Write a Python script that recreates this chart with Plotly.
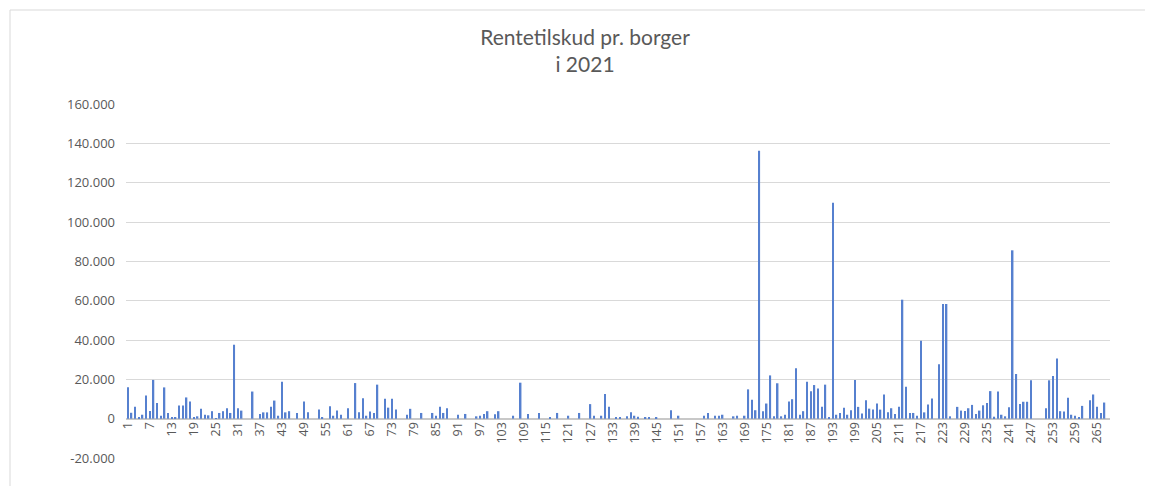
import plotly.graph_objects as go

# Category numbers (borgere 1..267)
categories = list(range(1, 268))

# Rentetilskud pr. borger (kr.)
values = [
    16000, 3000, 6000, 800, 2000, 11800, 3900, 19700, 8000, 1500,      # 1-10
    15900, 2900, 800, 800, 6700, 6700, 10800, 8700, 800, 1200,         # 11-20
    5000, 2000, 1700, 3800, 300, 2900, 3800, 5300, 2900, 37600,        # 21-30
    5300, 4100, 0, 0, 13800, 0, 2400, 3200, 3200, 6000,                # 31-40
    9200, 1500, 18800, 3200, 3800, 0, 2900, 0, 8700, 3200,             # 41-50
    0, 0, 4600, 800, 0, 6300, 1500, 4100, 2000, 0,                     # 51-60
    5300, 0, 18100, 3200, 10400, 1500, 3600, 2900, 17300, 0,           # 61-70
    10100, 5600, 10100, 4600, 0, 0, 2000, 5000, 0, 0,                  # 71-80
    2900, 0, 0, 2900, 1500, 6000, 2900, 5300, 0, 0,                    # 81-90
    2000, 0, 2400, 0, 0, 1200, 1500, 2400, 3800, 0,                    # 91-100
    2200, 3800, 0, 0, 0, 1500, 0, 18300, 0, 2400,                      # 101-110
    0, 0, 2900, 0, 0, 800, 0, 2900, 0, 0,                              # 111-120
    1500, 0, 0, 2900, 0, 0, 7400, 1500, 0, 1500,                       # 121-130
    12500, 6000, 0, 800, 500, 0, 1200, 3200, 1500, 1000,               # 131-140
    0, 500, 500, 0, 500, 0, 0, 0, 4300, 0,                             # 141-150
    1500, 0, 0, 0, 0, 0, 0, 1500, 2900, 0,                             # 151-160
    1500, 1500, 2000, 0, 0, 1200, 1500, 0, 1500, 14900,                # 161-170
    9600, 4300, 136200, 3800, 7700, 22000, 1200, 18000, 1200, 2000,    # 171-180
    8700, 9900, 25600, 2000, 3800, 18800, 14000, 17100, 15400, 6000,   # 181-190
    17300, 800, 109800, 2000, 2900, 5500, 2000, 4300, 19700, 6000,     # 191-200
    2600, 9400, 5100, 4600, 7700, 4600, 12300, 3200, 5300, 2400,       # 201-210
    6000, 60500, 16200, 2900, 2900, 1500, 39600, 3200, 7200, 10300,    # 211-220
    0, 27700, 58300, 58300, 1200, 0, 6000, 4100, 3900, 5300,           # 221-230
    7000, 2400, 4100, 6800, 8000, 14000, 1000, 13850, 2000, 1200,      # 231-240
    5800, 85600, 22700, 7400, 8600, 8600, 19500, 0, 0, 0,              # 241-250
    5300, 19500, 21700, 30600, 3800, 3600, 10600, 2000, 1500, 800,     # 251-260
    6500, 0, 9400, 12300, 6000, 2900, 8200,                            # 261-267
]

x_tick_values = list(range(1, 268, 6))
x_tick_labels = [str(v) for v in x_tick_values]

y_tick_values = [-20000, 0, 20000, 40000, 60000, 80000, 100000, 120000, 140000, 160000]
y_tick_labels = ["-20.000", "0", "20.000", "40.000", "60.000", "80.000",
                 "100.000", "120.000", "140.000", "160.000"]

title_lines = ["Rentetilskud pr. borger", "i 2021"]

GRAY_TEXT = "#595959"
GRID = "#d9d9d9"
BAR = "#5680cf"
TITLE_FONT = "Lato, 'Open Sans', sans-serif"
AXIS_FONT = "'Open Sans', Lato, sans-serif"

# The page body has an 8px margin, so the figure is 16px smaller than the window.
W, H = 1137, 478
ML, MR, MT, MB = 118, 35, 96, 28
PW = W - ML - MR
PH = H - MT - MB

fig = go.Figure()
fig.add_trace(go.Bar(
    x=categories,
    y=values,
    marker=dict(color=BAR, line=dict(width=0)),
    width=0.4,
    showlegend=False,
))

ymin, ymax = -20000, 160000

fig.update_layout(
    width=W,
    height=H,
    paper_bgcolor="white",
    plot_bgcolor="white",
    margin=dict(l=ML, r=MR, t=MT, b=MB, autoexpand=False),
    font=dict(family=AXIS_FONT, color=GRAY_TEXT),
    title=dict(
        text="<br>".join(title_lines),
        x=577 / W,
        xref="container",
        xanchor="center",
        y=1 - 37 / H,
        yref="container",
        yanchor="top",
        font=dict(size=21, color=GRAY_TEXT, family=TITLE_FONT),
    ),
    xaxis=dict(
        range=[0.5, 268.5],
        tickmode="array",
        tickvals=x_tick_values,
        ticktext=x_tick_labels,
        tickangle=-90,
        tickfont=dict(size=12.5, color=GRAY_TEXT, family=AXIS_FONT),
        showgrid=False,
        zeroline=False,
        showline=False,
        ticks="",
        anchor="free",
        position=(0 - ymin) / (ymax - ymin),
    ),
    yaxis=dict(
        range=[ymin, ymax],
        tickmode="array",
        tickvals=y_tick_values,
        ticktext=y_tick_labels,
        tickfont=dict(size=13, color=GRAY_TEXT, family=AXIS_FONT),
        showgrid=True,
        gridcolor=GRID,
        gridwidth=1,
        zeroline=True,
        zerolinecolor="#c8c8c8",
        zerolinewidth=1.5,
        showline=False,
        ticks="",
        ticklabelstandoff=10,
        domain=[0, 1],
    ),
    shapes=[
        # left edge of the chart frame
        dict(
            type="line", xref="paper", yref="paper",
            x0=(2 - ML) / PW, x1=(2 - ML) / PW,
            y0=-(MB + 5) / PH, y1=(PH + MT - 2) / PH,
            line=dict(color="#d9d9d9", width=1),
            layer="below",
        ),
        # top edge of the chart frame
        dict(
            type="line", xref="paper", yref="paper",
            x0=(2 - ML) / PW, x1=(W + 5 - ML) / PW,
            y0=(PH + MT - 2) / PH, y1=(PH + MT - 2) / PH,
            line=dict(color="#d9d9d9", width=1),
            layer="below",
        ),
    ],
)

fig.write_html("out.html")
